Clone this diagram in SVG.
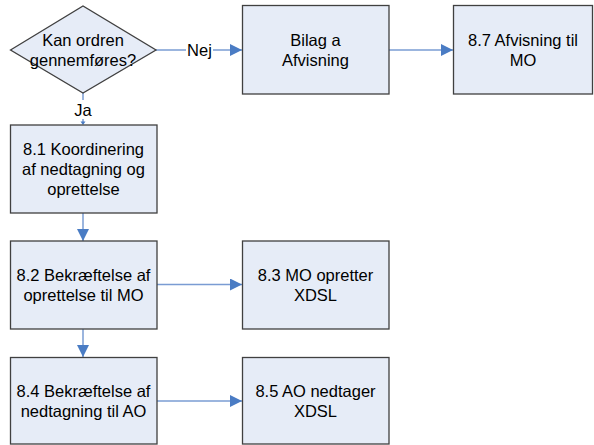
<svg xmlns="http://www.w3.org/2000/svg" width="594" height="445" viewBox="0 0 594 445">
<defs>
<style>
.box{fill:#E6ECF7;stroke:#404040;stroke-width:1.3}
.t{font-family:"Liberation Sans",Arial,sans-serif;font-size:16.5px;fill:#000;text-anchor:middle;dominant-baseline:central}
.c{stroke:#7A9CD3;stroke-width:1.5;fill:none}
.ah{fill:#4A7CC4}
</style>
<marker id="arr" markerWidth="12" markerHeight="12" refX="12" refY="6" orient="auto" markerUnits="userSpaceOnUse">
<path d="M0,0 L12,6 L0,12 Z" class="ah"/>
</marker>
</defs>
<rect width="594" height="445" fill="#fff"/>
<g id="connectors">
<line class="c" x1="156" y1="50" x2="242" y2="50" marker-end="url(#arr)"/>
<line class="c" x1="389" y1="50" x2="453" y2="50" marker-end="url(#arr)"/>
<line class="c" x1="83" y1="93" x2="83" y2="124"/>
<path class="ah" d="M80.5,121.5 L85.5,121.5 L83,125 Z"/>
<line class="c" x1="83" y1="213" x2="83" y2="241" marker-end="url(#arr)"/>
<line class="c" x1="157" y1="284.5" x2="242" y2="284.5" marker-end="url(#arr)"/>
<line class="c" x1="83" y1="329" x2="83" y2="357" marker-end="url(#arr)"/>
<line class="c" x1="157" y1="401" x2="242" y2="401" marker-end="url(#arr)"/>
<rect x="186" y="42" width="27" height="17" fill="#fff"/>
<text class="t" x="199.5" y="50">Nej</text>
<rect x="72" y="100" width="22" height="19" fill="#fff"/>
<text class="t" x="83" y="110">Ja</text>
</g>
<g id="decision">
<polygon class="box" points="10.5,50 83,6 156,50 83,93"/>
<text class="t" x="83" y="40">Kan ordren</text>
<text class="t" x="83" y="60">gennemføres?</text>
</g>
<g id="bilag">
<rect class="box" x="242.5" y="5.5" width="146.5" height="88.5"/>
<text class="t" x="315.5" y="40">Bilag a</text>
<text class="t" x="315.5" y="60">Afvisning</text>
</g>
<g id="n87">
<rect class="box" x="453.5" y="5.5" width="139" height="88.5"/>
<text class="t" x="523" y="40">8.7 Afvisning til</text>
<text class="t" x="523" y="60">MO</text>
</g>
<g id="n81">
<rect class="box" x="10.5" y="125" width="146.5" height="88"/>
<text class="t" x="83.5" y="149">8.1 Koordinering</text>
<text class="t" x="83.5" y="169">af nedtagning og</text>
<text class="t" x="83.5" y="189">oprettelse</text>
</g>
<g id="n82">
<rect class="box" x="10.5" y="241" width="146.5" height="88"/>
<text class="t" x="83.5" y="274.5">8.2 Bekræftelse af</text>
<text class="t" x="83.5" y="294.5">oprettelse til MO</text>
</g>
<g id="n83">
<rect class="box" x="242.5" y="241" width="146.5" height="88"/>
<text class="t" x="315.5" y="274.5">8.3 MO opretter</text>
<text class="t" x="315.5" y="294.5">XDSL</text>
</g>
<g id="n84">
<rect class="box" x="10.5" y="357.5" width="146.5" height="86.5"/>
<text class="t" x="83.5" y="390.5">8.4 Bekræftelse af</text>
<text class="t" x="83.5" y="410.5">nedtagning til AO</text>
</g>
<g id="n85">
<rect class="box" x="242.5" y="357.5" width="146.5" height="86.5"/>
<text class="t" x="315.5" y="390.5">8.5 AO nedtager</text>
<text class="t" x="315.5" y="410.5">XDSL</text>
</g>
</svg>
